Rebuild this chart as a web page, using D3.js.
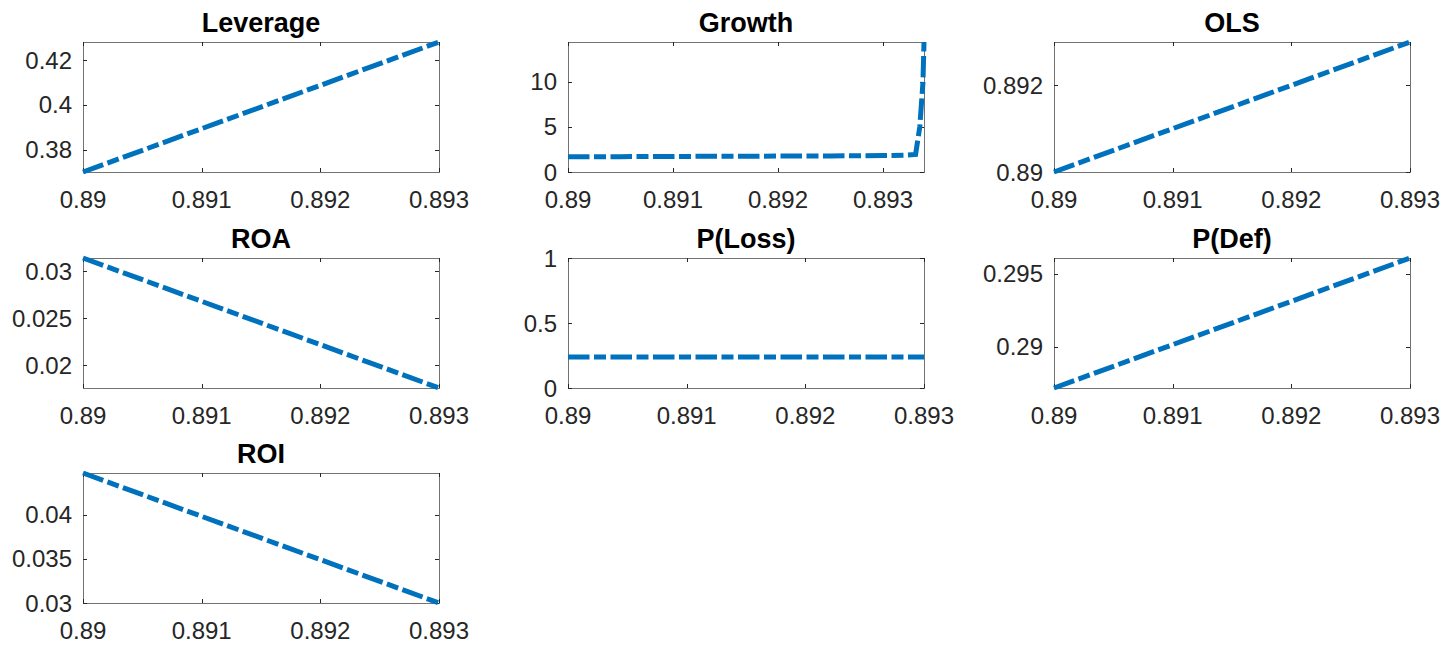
<!DOCTYPE html>
<html>
<head>
<meta charset="utf-8">
<script src="https://cdn.jsdelivr.net/npm/d3@7"></script>
<style>
  body { margin: 0; background: #fff; }
  svg { display: block; }
</style>
</head>
<body>
<svg id="fig" width="1455" height="645"></svg>
<script>
// panel values
var titles = ['Leverage', 'Growth', 'OLS', 'ROA', 'P(Loss)', 'P(Def)', 'ROI'];
var xTicks = [0.89, 0.891, 0.892, 0.893];

var leverageX = [0.89, 0.893], leverageY = [0.370, 0.428];
var growthX = [0.89, 0.8905, 0.891, 0.8915, 0.892, 0.8925, 0.893, 0.8932, 0.89331, 0.89335, 0.89338, 0.89339];
var growthY = [1.68, 1.70, 1.72, 1.74, 1.76, 1.78, 1.82, 1.86, 1.95, 5.0, 9.9, 14.38];
var olsX = [0.89, 0.893], olsY = [0.89, 0.893];
var roaX = [0.89, 0.893], roaY = [0.03138, 0.01756];
var plossX = [0.89, 0.893], plossY = [0.238, 0.238];
var pdefX = [0.89, 0.893], pdefY = [0.28717, 0.29608];
var roiX = [0.89, 0.893], roiY = [0.0447, 0.030];

var yTicks = [
    [0.38, 0.4, 0.42],
    [0, 5, 10],
    [0.89, 0.892],
    [0.02, 0.025, 0.03],
    [0, 0.5, 1],
    [0.29, 0.295],
    [0.03, 0.035, 0.04]
];
// fixed y limits where the axis is not tight
var yLimits = [null, [0, 14.38], null, null, [0, 1], null, null];

var panels = [
    [leverageX, leverageY], [growthX, growthY], [olsX, olsY],
    [roaX, roaY], [plossX, plossY], [pdefX, pdefY], [roiX, roiY]
];

var colLeft = [83, 568, 1054], rowTop = [42, 258, 473];
var W = 356, H = 130, tick = 4;
var fmt = d3.format('~g');

var svg = d3.select('#fig');

panels.forEach(function (p, i) {
    var xs = p[0], ys = p[1];
    var x0 = colLeft[i % 3], y0 = rowTop[Math.floor(i / 3)];
    var g = svg.append('g').attr('transform', 'translate(' + x0 + ',' + y0 + ')');

    var x = d3.scaleLinear().domain(d3.extent(xs)).range([0, W]);
    var y = d3.scaleLinear().domain(yLimits[i] || d3.extent(ys)).range([H, 0]);

    var data = xs.map(function (d, k) { return [d, ys[k]]; });

    // box
    g.append('rect')
        .attr('x', 0.5).attr('y', 0.5)
        .attr('width', W).attr('height', H)
        .attr('fill', 'none')
        .attr('stroke', '#737373')
        .attr('stroke-width', 1);

    // x ticks (bottom + top, inward)
    var xt = g.append('g');
    xTicks.forEach(function (t) {
        var px = Math.round(x(t)) + 0.5;
        xt.append('line').attr('x1', px).attr('x2', px).attr('y1', H).attr('y2', H - tick)
            .attr('stroke', '#262626');
        xt.append('line').attr('x1', px).attr('x2', px).attr('y1', 0).attr('y2', tick)
            .attr('stroke', '#262626');
        xt.append('text')
            .attr('x', x(t)).attr('y', H + 36)
            .attr('text-anchor', 'middle')
            .attr('font-family', 'Liberation Sans, Arial, sans-serif')
            .attr('font-size', 24)
            .attr('fill', '#262626')
            .text(fmt(t));
    });

    // y ticks (left + right, inward)
    var yt = g.append('g');
    yTicks[i].forEach(function (t) {
        var py = Math.round(y(t)) + 0.5;
        yt.append('line').attr('x1', 0).attr('x2', tick).attr('y1', py).attr('y2', py)
            .attr('stroke', '#262626');
        yt.append('line').attr('x1', W).attr('x2', W - tick).attr('y1', py).attr('y2', py)
            .attr('stroke', '#262626');
        yt.append('text')
            .attr('x', -11).attr('y', y(t))
            .attr('dy', '0.36em')
            .attr('text-anchor', 'end')
            .attr('font-family', 'Liberation Sans, Arial, sans-serif')
            .attr('font-size', 24)
            .attr('fill', '#262626')
            .text(fmt(t));
    });

    // title
    g.append('text')
        .attr('x', W / 2).attr('y', -10.5)
        .attr('text-anchor', 'middle')
        .attr('font-family', 'Liberation Sans, Arial, sans-serif')
        .attr('font-weight', 'bold')
        .attr('font-size', 27)
        .attr('fill', '#000')
        .text(titles[i]);

    // dash-dot series line
    g.append('path')
        .datum(data)
        .attr('d', d3.line().x(function (d) { return x(d[0]); }).y(function (d) { return y(d[1]); }))
        .attr('fill', 'none')
        .attr('stroke', '#0072BD')
        .attr('stroke-width', 5)
        .attr('stroke-dasharray', '21.5,4.5,12,4.5');
});
</script>
</body>
</html>
